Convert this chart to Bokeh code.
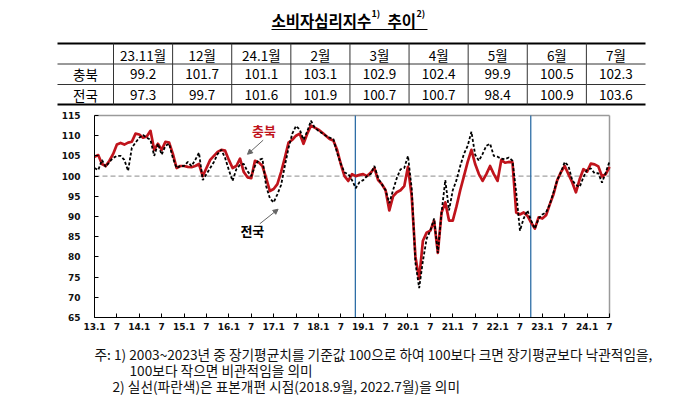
from bokeh.plotting import figure
from bokeh.models import Range1d, FixedTicker, LinearAxis, Arrow, NormalHead
from bokeh.core.properties import value
from bokeh.embed import file_html
from bokeh.resources import INLINE

# ---------------- data ----------------
title_main = "소비자심리지수"
title_sup1 = "1)"
title_tail = "추이"
title_sup2 = "2)"

table_months = ["23.11월", "12월", "24.1월", "2월", "3월", "4월", "5월", "6월", "7월"]
row_labels = ["충북", "전국"]
table_chungbuk = [99.2, 101.7, 101.1, 103.1, 102.9, 102.4, 99.9, 100.5, 102.3]
table_national = [97.3, 99.7, 101.6, 101.9, 100.7, 100.7, 98.4, 100.9, 103.6]

# monthly series 2013.1 - 2024.7
chungbuk = [
    104.8, 105.2, 103.0, 102.5, 103.8, 105.5, 107.8, 108.2, 107.8, 108.3, 108.5, 110.5,  # 2013
    110.3, 109.5, 109.8, 111.2, 106.5, 108.0, 106.5, 108.5, 108.3, 105.5, 102.0, 102.5,  # 2014
    102.5, 102.3, 102.2, 102.5, 103.0, 100.0, 102.0, 104.0, 105.0, 106.0, 106.5, 106.3,  # 2015
    104.0, 102.0, 102.5, 104.3, 101.0, 99.7, 99.5, 103.8, 103.4, 102.5, 99.5, 96.3,      # 2016
    96.8, 98.0, 101.0, 104.5, 108.3, 109.0, 110.0, 110.5, 108.0, 110.5, 112.5, 112.0,    # 2017
    111.5, 110.8, 110.0, 109.2, 108.8, 106.5, 103.0, 100.0, 98.8, 100.5, 100.0, 100.3,   # 2018
    100.5, 100.0, 100.8, 102.0, 99.0, 98.0, 96.5, 91.5, 95.0, 96.0, 96.5, 97.5,          # 2019
    102.3, 95.0, 80.0, 74.5, 84.0, 86.0, 86.5, 89.0, 81.0, 91.0, 93.5, 89.0,             # 2020
    89.0, 92.5, 96.5, 100.0, 103.5, 106.5, 103.0, 100.5, 98.8, 100.5, 102.5, 100.5,      # 2021
    98.8, 104.0, 103.3, 103.5, 103.4, 91.0, 90.5, 91.0, 90.2, 88.5, 87.0, 89.8,          # 2022
    89.5, 90.3, 93.0, 95.5, 99.0, 101.0, 102.5, 100.5, 98.5, 96.0, 99.2, 101.7,          # 2023
    101.1, 103.1, 102.9, 102.4, 99.9, 100.5, 102.3,                                      # 2024
]
national = [
    102.0, 101.5, 104.0, 102.3, 103.5, 104.5, 105.0, 105.0, 104.0, 101.3, 107.0, 108.3,  # 2013
    109.5, 110.2, 109.5, 109.0, 105.0, 108.0, 105.3, 107.5, 108.0, 104.5, 102.0, 102.5,  # 2014
    102.5, 103.5, 102.5, 104.0, 105.8, 99.0, 100.5, 102.0, 103.5, 105.5, 106.5, 104.5,   # 2015
    101.5, 98.8, 101.7, 102.8, 103.0, 101.2, 100.0, 102.5, 104.0, 104.3, 97.5, 94.5,     # 2016
    93.5, 95.5, 97.8, 102.5, 107.0, 110.5, 112.4, 111.5, 109.0, 111.0, 113.7, 112.0,     # 2017
    111.2, 110.6, 110.0, 109.5, 109.2, 105.8, 103.0, 100.9, 100.5, 99.0, 97.0, 98.5,     # 2018
    99.0, 100.0, 100.5, 102.5, 99.5, 98.0, 96.5, 93.3, 96.5, 99.5, 101.7, 102.0,         # 2019
    105.0, 96.9, 78.5, 72.3, 79.0, 84.5, 86.5, 89.5, 81.0, 91.0, 99.0, 91.5,             # 2020
    96.5, 99.0, 102.5, 105.5, 107.5, 111.0, 105.3, 103.8, 105.5, 107.5, 108.0, 105.0,    # 2021
    104.8, 104.3, 104.2, 104.6, 103.8, 96.0, 86.5, 89.5, 91.5, 89.0, 87.0, 89.5,         # 2022
    90.5, 91.0, 93.0, 96.0, 99.0, 101.0, 103.5, 102.5, 99.0, 97.8, 97.3, 99.7,           # 2023
    101.6, 101.9, 100.7, 100.7, 98.4, 100.9, 103.6,                                      # 2024
]
month_index = list(range(len(chungbuk)))

tick_positions = list(range(0, 139, 6))
tick_labels = ["13.1", "7", "14.1", "7", "15.1", "7", "16.1", "7", "17.1", "7", "18.1", "7",
               "19.1", "7", "20.1", "7", "21.1", "7", "22.1", "7", "23.1", "7", "24.1", "7"]
y_ticks = list(range(65, 116, 5))
reference_level = 100

# sample-revision lines as drawn in the source chart (month-index position)
revision_index = [69.9, 116.9]

notes = [
    "주: 1) 2003~2023년 중 장기평균치를 기준값 100으로 하여 100보다 크면 장기평균보다 낙관적임을,",
    "100보다 작으면 비관적임을 의미",
    "2) 실선(파란색)은 표본개편 시점(2018.9월, 2022.7월)을 의미",
]

# ---------------- layout geometry ----------------
W, H = 687, 405
X_MIN, X_MAX = 0, 138
Y_MIN, Y_MAX = 65, 115
F_LEFT, F_RIGHT, F_TOP, F_BOTTOM = 94, 609, 115, 317   # chart frame in page pixels
ppx = (F_RIGHT - F_LEFT) / (X_MAX - X_MIN)
ppy = (F_BOTTOM - F_TOP) / (Y_MAX - Y_MIN)
xr = Range1d(X_MIN - F_LEFT / ppx, X_MIN - F_LEFT / ppx + W / ppx)
yr = Range1d(Y_MIN - (H - F_BOTTOM) / ppy, Y_MAX + F_TOP / ppy)

KR = value("Noto Sans CJK KR")
RED = "#c0141c"
PG = dict(x_range_name="page", y_range_name="page")

p = figure(width=W, height=H, x_range=xr, y_range=yr, output_backend="svg",
           toolbar_location=None, min_border=0, x_axis_location=None, y_axis_location=None,
           outline_line_color=None)
p.grid.visible = False
p.background_fill_color = "white"
p.border_fill_color = "white"
p.extra_x_ranges = {"page": Range1d(0, W)}
p.extra_y_ranges = {"page": Range1d(H, 0)}

# ---------------- title ----------------
tx = 271
p.text(x=[tx], y=[19], text=[title_main], text_font=KR, text_font_size=value("15.5px"),
       text_font_style="bold", text_align="left", text_baseline="middle", text_color="black", **PG)
p.text(x=[tx + 100], y=[13], text=[title_sup1], text_font=KR, text_font_size=value("9px"),
       text_font_style="bold", text_align="left", text_baseline="middle", text_color="black", **PG)
p.text(x=[tx + 116], y=[19], text=[title_tail], text_font=KR, text_font_size=value("15.5px"),
       text_font_style="bold", text_align="left", text_baseline="middle", text_color="black", **PG)
p.text(x=[tx + 145], y=[13], text=[title_sup2], text_font=KR, text_font_size=value("9px"),
       text_font_style="bold", text_align="left", text_baseline="middle", text_color="black", **PG)
p.segment(x0=[tx], y0=[29], x1=[tx + 156], y1=[29], line_color="black", line_width=1, **PG)

# ---------------- table ----------------
t_left, t_right, lab_right = 57, 645, 113
col_w = (t_right - lab_right) / len(table_months)
y_top, y_h, y_r1, y_bot = 43, 63.5, 84, 104
p.segment(x0=[t_left, t_left], y0=[y_top, y_bot], x1=[t_right, t_right], y1=[y_top, y_bot],
          line_color="black", line_width=2, **PG)
p.segment(x0=[t_left, t_left], y0=[y_h, y_r1], x1=[t_right, t_right], y1=[y_h, y_r1],
          line_color="#333333", line_width=1, **PG)
vx = [lab_right + k * col_w for k in range(len(table_months))]
p.segment(x0=vx, y0=[y_top] * len(vx), x1=vx, y1=[y_bot] * len(vx),
          line_color="#333333", line_width=1, **PG)

cx = [lab_right + (k + 0.5) * col_w for k in range(len(table_months))]
tfs = value("13.5px")
p.text(x=cx, y=[(y_top + y_h) / 2 + 1] * len(cx), text=table_months, text_font=KR,
       text_font_size=tfs, text_align="center", text_baseline="middle", text_color="black", **PG)
p.text(x=[(t_left + lab_right) / 2] * 2, y=[(y_h + y_r1) / 2, (y_r1 + y_bot) / 2], text=row_labels,
       text_font=KR, text_font_size=tfs, text_align="center", text_baseline="middle",
       text_color="black", **PG)
p.text(x=cx, y=[(y_h + y_r1) / 2] * len(cx), text=[f"{v:.1f}" for v in table_chungbuk], text_font=KR,
       text_font_size=tfs, text_align="center", text_baseline="middle", text_color="black", **PG)
p.text(x=cx, y=[(y_r1 + y_bot) / 2] * len(cx), text=[f"{v:.1f}" for v in table_national], text_font=KR,
       text_font_size=tfs, text_align="center", text_baseline="middle", text_color="black", **PG)

# ---------------- chart ----------------
p.segment(x0=[X_MIN, X_MAX], y0=[Y_MAX, Y_MIN], x1=[X_MAX, X_MAX], y1=[Y_MAX, Y_MAX],
          line_color="#9a9a9a", line_width=1.5)
p.segment(x0=[X_MIN], y0=[reference_level], x1=[X_MAX], y1=[reference_level],
          line_color="#8a8a8a", line_dash="5 3", line_width=1)
p.segment(x0=revision_index, y0=[Y_MIN] * len(revision_index), x1=revision_index,
          y1=[Y_MAX] * len(revision_index), line_color="#2e6ea6", line_width=1.3)

p.line(month_index, chungbuk, line_color=RED, line_width=2.7, line_join="round")
p.line(month_index, national, line_color="black", line_width=1.8, line_dash="3 2")

xaxis = LinearAxis(fixed_location=Y_MIN, bounds=(X_MIN, X_MAX),
                   ticker=FixedTicker(ticks=tick_positions),
                   major_label_overrides={t: lab for t, lab in zip(tick_positions, tick_labels)},
                   major_label_standoff=5)
yaxis = LinearAxis(fixed_location=X_MIN, bounds=(Y_MIN, Y_MAX),
                   ticker=FixedTicker(ticks=y_ticks), major_label_standoff=14)
for ax in (xaxis, yaxis):
    ax.axis_line_color = "black"
    ax.axis_line_width = 1
    ax.major_tick_in = 4
    ax.major_tick_out = 0
    ax.major_tick_line_color = "black"
    ax.minor_tick_line_color = None
    ax.major_label_text_font = "DejaVu Sans"
    ax.major_label_text_font_style = "bold"
    ax.major_label_text_font_size = "9px"
    ax.major_label_text_color = "#111111"
p.add_layout(xaxis, "below")
p.add_layout(yaxis, "left")

p.text(x=[45.4], y=[111.2], text=["충북"], text_font=KR, text_font_size=value("13px"),
       text_font_style="bold", text_color=RED, text_align="center", text_baseline="middle")
p.text(x=[42.3], y=[86.6], text=["전국"], text_font=KR, text_font_size=value("13px"),
       text_font_style="bold", text_color="black", text_align="center", text_baseline="middle")
p.add_layout(Arrow(end=NormalHead(size=5, fill_color="#666666", line_color="#666666"),
                   x_start=45.2, y_start=108.9, x_end=41.0, y_end=105.4,
                   line_color="#666666", line_width=1))
p.add_layout(Arrow(end=NormalHead(size=5, fill_color="#666666", line_color="#666666"),
                   x_start=44.3, y_start=88.2, x_end=49.2, y_end=91.8,
                   line_color="#666666", line_width=1))

# ---------------- notes ----------------
p.text(x=[94, 129, 112], y=[353, 369, 385], text=notes, text_font=KR,
       text_font_size=value("13.7px"), text_align="left", text_baseline="middle",
       text_color="#111111", **PG)

open("out.html", "w").write(file_html(p, INLINE))
